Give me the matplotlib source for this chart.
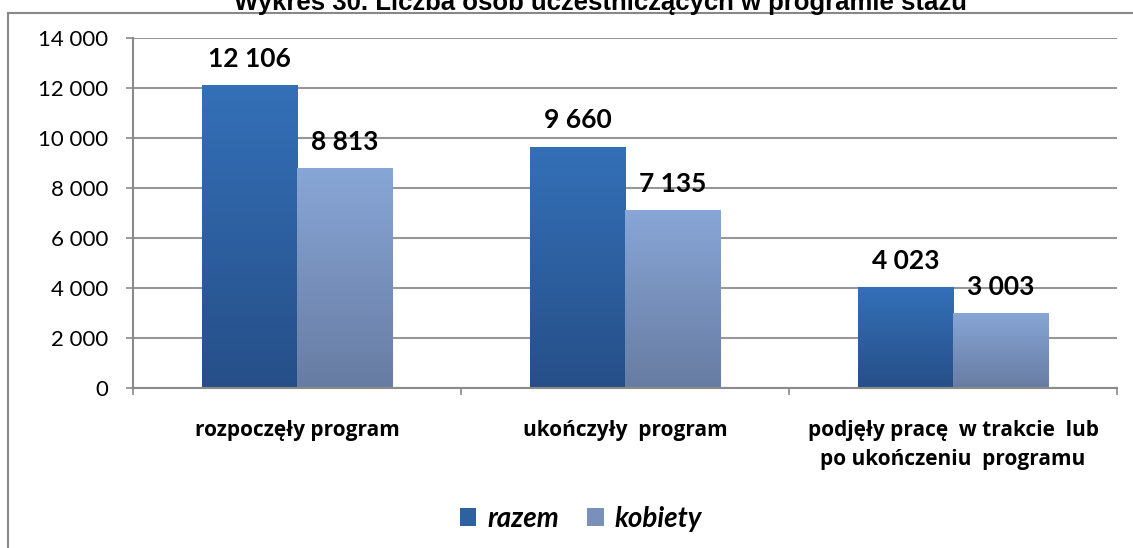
import numpy as np
import matplotlib
matplotlib.use("Agg")
import matplotlib.pyplot as plt
from matplotlib.colors import LinearSegmentedColormap
from matplotlib.patches import Patch
from matplotlib.lines import Line2D

categories = ["rozpoczęły program", "ukończyły  program",
              "podjęły pracę  w trakcie  lub\npo ukończeniu  programu"]
razem = [12106, 9660, 4023]
kobiety = [8813, 7135, 3003]
series_names = ["razem", "kobiety"]
yticks = [0, 2000, 4000, 6000, 8000, 10000, 12000, 14000]
title = "Wykres 30. Liczba osób uczestniczących w programie stażu"

W, H = 1133, 548
fig = plt.figure(figsize=(W / 100, H / 100), dpi=100)
ax = fig.add_axes([133 / W, 1 - 388 / H, (1117 - 133) / W, 350 / H])

# gradient colours (top, bottom)
c_razem = ("#3470b8", "#264f88")
c_kob = ("#88a6d6", "#677ca2")

x = np.arange(len(categories))
bw = 0.29
b1 = ax.bar(x - bw / 2, razem, bw, color="none", zorder=2)
b2 = ax.bar(x + bw / 2, kobiety, bw, color="none", zorder=2)


def fill_gradient(bars, top, bottom):
    cmap = LinearSegmentedColormap.from_list("g", [bottom, top])
    grad = np.linspace(0, 1, 256).reshape(-1, 1)
    for b in bars:
        x0, y0 = b.get_x(), b.get_y()
        im = ax.imshow(grad, extent=[x0, x0 + b.get_width(), y0, y0 + b.get_height()],
                       origin="lower", aspect="auto", cmap=cmap, zorder=2)
        im.set_clip_path(b)


fill_gradient(b1, *c_razem)
fill_gradient(b2, *c_kob)

ax.set_xlim(-0.5, 2.5)
ax.set_ylim(0, 14000)

# value labels
for bars, vals in ((b1, razem), (b2, kobiety)):
    for b, v in zip(bars, vals):
        ax.annotate(f"{v:,}".replace(",", " "),
                    (b.get_x() + b.get_width() / 2, v),
                    xytext=(0, 13), textcoords="offset points",
                    ha="center", va="baseline", fontsize=19,
                    fontweight="bold", family="Lato", color="black")

grid_c = "#979797"
ax.set_yticks(yticks)
ax.set_yticklabels([f"{t:,}".replace(",", " ") for t in yticks],
                   family="Lato", fontsize=16)
ax.yaxis.grid(True, color=grid_c, linewidth=1.5, zorder=0)
ax.set_axisbelow(True)
ax.tick_params(axis="y", length=5, width=1.2, color="#8a8a8a", pad=13)

ax.set_xticks(x)
ax.set_xticklabels(categories, family="Open Sans", fontsize=15, fontweight="bold",
                   linespacing=1.5)
ax.set_xticks([-0.5, 0.5, 1.5, 2.5], minor=True)
ax.tick_params(axis="x", which="major", length=0, pad=23)
ax.tick_params(axis="x", which="minor", length=5, width=1.2, color="#8a8a8a")

for s in ("top", "right"):
    ax.spines[s].set_visible(False)
for s in ("left", "bottom"):
    ax.spines[s].set_color("#8a8a8a")
    ax.spines[s].set_linewidth(1.5)

# legend
handles = [Patch(facecolor="#2e619f", edgecolor="none"),
           Patch(facecolor="#7990bb", edgecolor="none")]
fig.legend(handles, series_names, loc="center",
           bbox_to_anchor=(581 / W, 1 - 519 / H), ncol=2, frameon=False,
           prop={"family": "Lato", "weight": "bold", "style": "italic", "size": 20},
           handlelength=0.6, handleheight=0.6, handletextpad=0.4, columnspacing=1.0)

# outer frame, cut off at the right and bottom edges
fr = "#888888"
fig.add_artist(Line2D([8 / W, 8 / W], [0, 1 - 13 / H], color=fr, lw=1.5,
                      transform=fig.transFigure))
fig.add_artist(Line2D([8 / W, 1], [1 - 13 / H, 1 - 13 / H], color=fr, lw=1.5,
                      transform=fig.transFigure))

fig.text(600 / W, 1 - 10 / H, title, ha="center", va="baseline",
         family="Liberation Sans", fontweight="bold", fontsize=18.5)

fig.savefig("out.png", dpi=100)
